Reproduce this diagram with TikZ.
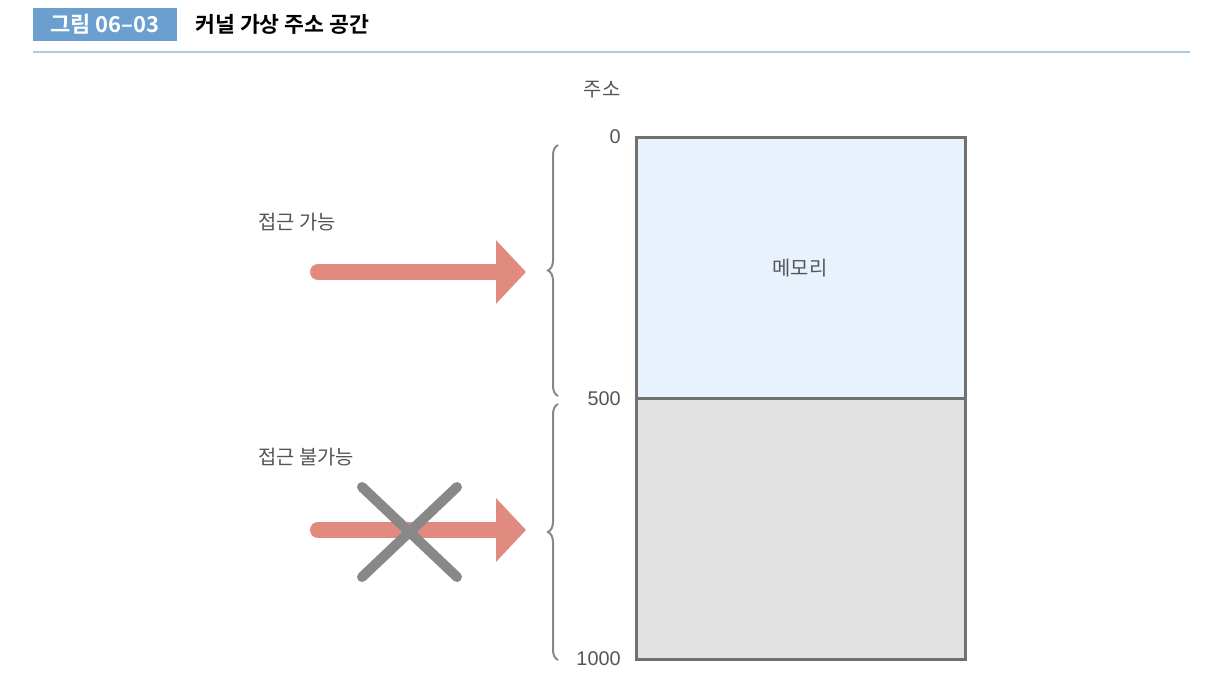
\documentclass[tikz,border=0pt]{standalone}
\usepackage{fontspec}
\usepackage{tikz}
\usetikzlibrary{arrows.meta,decorations.pathreplacing}
\setmainfont{Noto Sans CJK KR}
\newfontfamily\krbold[BoldFont=*]{Noto Sans CJK KR Bold}
\newfontfamily\numfont{Liberation Sans}
\definecolor{headblue}{HTML}{6A9FCF}
\definecolor{rulesky}{HTML}{A9CBEA}
\definecolor{memblue}{HTML}{E8F2FC}
\definecolor{memgray}{HTML}{E1E2E1}
\definecolor{edgegray}{HTML}{707070}
\definecolor{txtgray}{HTML}{555555}
\definecolor{arrowred}{HTML}{E08A80}
\definecolor{crossgray}{HTML}{888888}

\begin{document}
\begin{tikzpicture}[x=0.02cm,y=-0.02cm,
	lbl/.style={text=txtgray,font=\fontsize{11.3}{13}\selectfont,inner sep=0pt},
	numlbl/.style={lbl,font=\numfont\fontsize{11.3}{13}\selectfont,anchor=east},
	bigarrow/.style={draw=arrowred,line width=0.32cm,line cap=round,
		-{Triangle[length=0.6cm,width=1.24cm]}},
	bracket/.style={draw=crossgray,line width=0.04cm,decorate,
		decoration={brace,amplitude=0.2cm}}]
	
	\useasboundingbox (0,0) rectangle (1210,690);
	
	% header
	\node[fill=headblue,minimum width=2.88cm,minimum height=0.66cm,inner sep=0pt,
		text=white,font=\krbold\fontsize{12.5}{14}\selectfont] (fig) at (105,24.5) {그림 06–03};
	\node[anchor=west,inner sep=0pt,font=\krbold\fontsize{12.3}{14}\selectfont] (title) at (195,24) {커널 가상 주소 공간};
	\draw[rulesky,line width=0.03cm] (33,52) -- (1190,52);
	
	% memory
	\coordinate (m0) at (636,137);
	\coordinate (m5) at (965,398);
	\coordinate (m10) at (636,659);
	\fill[memblue] (m0) rectangle (m5);
	\fill[memgray] (636,398) rectangle (965,659);
	\draw[edgegray,line width=0.06cm] (m0) rectangle (965,659);
	\draw[edgegray,line width=0.06cm] (636,398) -- (m5);
	\node[lbl] (mem) at (800,268) {메모리};
	
	\node[lbl] (addr) at (602,90) {주소};
	\node[numlbl] (a0) at (621,137) {0};
	\node[numlbl] (a5) at (621,399) {500};
	\node[numlbl] (a10) at (621,659) {1000};
	
	% braces
	\draw[bracket] (558,396) -- (558,145);
	\draw[bracket] (558,660) -- (558,404);
	
	% arrows
	\coordinate (s1) at (318,272);
	\coordinate (e1) at (526,272);
	\coordinate (s2) at (318,530);
	\coordinate (e2) at (526,530);
	\draw[bigarrow] (s1) -- (e1);
	\draw[bigarrow] (s2) -- (e2);
	\node[lbl] (ok) at (297,222) {접근 가능};
	\node[lbl] (no) at (306,457) {접근 불가능};
	
	% cross
	\draw[crossgray,line width=0.2cm,line cap=round] (362,487) -- (457,577);
	\draw[crossgray,line width=0.2cm,line cap=round] (457,487) -- (362,577);
	
\end{tikzpicture}
\end{document}
